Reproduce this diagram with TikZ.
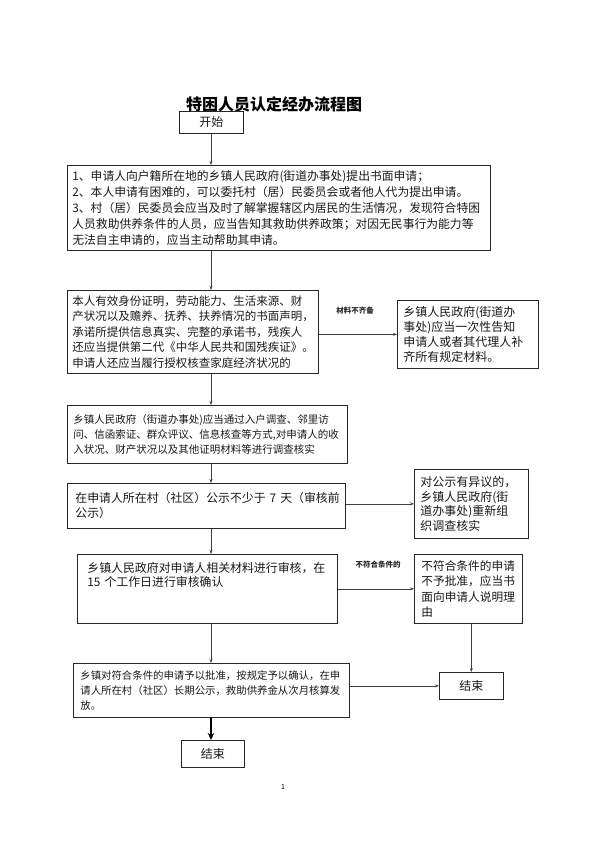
\documentclass[tikz,border=0pt]{standalone}
\usepackage{fontspec}
\setmainfont{Noto Sans CJK SC}
\usetikzlibrary{arrows.meta}
\begin{document}
\begin{tikzpicture}[x=1pt,y=-1pt,
  box/.style={draw=black!85, line width=0.7pt, anchor=north west, inner ysep=0pt, align=left, text=black!90},
  cbox/.style={draw=black!85, line width=0.7pt, anchor=north west, inner sep=0pt, align=center, text=black!90,
    font=\fontsize{12pt}{14pt}\selectfont},
  arr/.style={draw=black!75, line width=0.6pt, -{Stealth[length=4pt,width=3pt]}},
  thickarr/.style={draw=black, line width=2pt, -{Stealth[length=7pt,width=6.5pt]}},
  lbl/.style={font=\fontsize{7.5pt}{9pt}\selectfont\bfseries, text=black!85},
]
\useasboundingbox (0,0) rectangle (595,842);

\node[font=\fontsize{16pt}{18pt}\selectfont\bfseries] (title) at (274,104) {特困人员认定经办流程图};

\node[cbox, minimum width=64pt, minimum height=22pt] (start) at (179,111) {开始};

\node[box, minimum width=423pt, minimum height=85pt, inner xsep=5pt, text width=413pt,
  font=\fontsize{11.8pt}{16pt}\selectfont] (b1) at (67,165)
  {1、申请人向户籍所在地的乡镇人民政府(街道办事处)提出书面申请；\\
   2、本人申请有困难的，可以委托村（居）民委员会或者他人代为提出申请。\\
   3、村（居）民委员会应当及时了解掌握辖区内居民的生活情况，发现符合特困\\
   人员救助供养条件的人员，应当告知其救助供养政策；对因无民事行为能力等\\
   无法自主申请的，应当主动帮助其申请。};

\node[box, minimum width=251pt, minimum height=83pt, inner xsep=5pt, text width=241pt,
  font=\fontsize{11.5pt}{15.5pt}\selectfont] (b2) at (67,290)
  {本人有效身份证明，劳动能力、生活来源、财\\
   产状况以及赡养、抚养、扶养情况的书面声明，\\
   承诺所提供信息真实、完整的承诺书，残疾人\\
   还应当提供第二代《中华人民共和国残疾证》。\\
   申请人还应当履行授权核查家庭经济状况的};

\node[box, minimum width=141pt, minimum height=68pt, inner xsep=6pt, text width=129pt,
  font=\fontsize{12pt}{15pt}\selectfont] (b3) at (397,300)
  {乡镇人民政府(街道办\\
   事处)应当一次性告知\\
   申请人或者其代理人补\\
   齐所有规定材料。};

\node[box, minimum width=280pt, minimum height=58pt, inner xsep=6pt, text width=268pt,
  font=\fontsize{10.5pt}{15pt}\selectfont] (b4) at (67,405)
  {乡镇人民政府（街道办事处)应当通过入户调查、邻里访\\
   问、信函索证、群众评议、信息核查等方式,对申请人的收\\
   入状况、财产状况以及其他证明材料等进行调查核实};

\node[box, minimum width=278pt, minimum height=45pt, inner xsep=8pt, text width=262pt,
  font=\fontsize{11.9pt}{15pt}\selectfont] (b5) at (67,483)
  {\mbox{在申请人所在村（社区）公示不少于 7 天（审核前}\\
   公示）};

\node[box, minimum width=114pt, minimum height=69pt, inner xsep=6pt, text width=102pt,
  font=\fontsize{12pt}{14.7pt}\selectfont] (b5r) at (414,469)
  {对公示有异议的，\\
   乡镇人民政府(街\\
   道办事处)重新组\\
   织调查核实};

\node[box, minimum width=260pt, minimum height=69pt, inner xsep=10pt, text width=240pt,
  font=\fontsize{11.9pt}{14pt}\selectfont] (b6) at (77,554)
  {乡镇人民政府对申请人相关材料进行审核，在\\
   \mbox{15 个工作日进行审核确认}\\
   \mbox{}\\
   \mbox{}};

\node[box, minimum width=108pt, minimum height=69pt, inner xsep=7pt, text width=94pt,
  font=\fontsize{11.7pt}{15.5pt}\selectfont] (b7) at (414,554)
  {不符合条件的申请\\
   不予批准，应当书\\
   面向申请人说明理\\
   由};

\node[box, minimum width=276pt, minimum height=54pt, inner xsep=7pt, text width=262pt,
  font=\fontsize{10.4pt}{15pt}\selectfont] (b8) at (73,663)
  {乡镇对符合条件的申请予以批准，按规定予以确认，在申\\
   请人所在村（社区）长期公示，救助供养金从次月核算发\\
   放。};

\node[cbox, minimum width=64pt, minimum height=27pt] (e1) at (439,672) {结束};
\node[cbox, minimum width=63pt, minimum height=27pt] (e2) at (181,740) {结束};

\node[lbl] (l1) at (355,311) {材料不齐备};
\node[lbl] (l2) at (378,565) {不符合条件的};

\node[font=\fontsize{7pt}{8pt}\selectfont] (page) at (283,787) {1};

\coordinate (ax) at (211,0);

\draw[arr] (start.south -| ax) -- (b1.north -| ax);
\draw[arr] (b1.south -| ax) -- (b2.north -| ax);
\draw[arr] (b2.east |- b3.west) -- (b3.west);
\draw[arr] (b2.south -| ax) -- (b4.north -| ax);
\draw[arr] (b4.south -| ax) -- (b5.north -| ax);
\draw[arr] (b5.east |- b5r.west) -- (b5r.west);
\draw[arr] (b5.south -| ax) -- (b6.north -| ax);
\draw[arr] (b6.east) -- (b7.west);
\draw[arr] (b6.south -| ax) -- (b8.north -| ax);
\draw[arr] (e1.north |- b7.south) -- (e1.north);
\draw[arr] (b8.east |- e1.west) -- (e1.west);
\draw[thickarr] (b8.south -| ax) -- (e2.north -| ax);
\end{tikzpicture}
\end{document}
